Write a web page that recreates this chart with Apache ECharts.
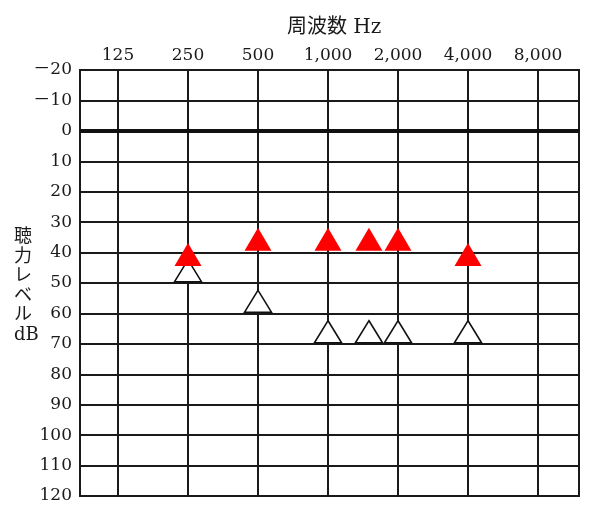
<!DOCTYPE html>
<html><head><meta charset="utf-8">
<script src="https://cdn.jsdelivr.net/npm/echarts@6/dist/echarts.min.js"></script>
<style>html,body{margin:0;padding:0;background:#fff}#c{width:600px;height:517px}</style>
</head><body><div id="c"></div>
<script>
var freqLabels = ['125','250','500','1,000','2,000','4,000','8,000'];
var freqTicks = [125, 250, 500, 1000, 2000, 4000, 8000];
var dbTicks = [-20,-10,0,10,20,30,40,50,60,70,80,90,100,110,120];
var redFreq = [250, 500, 1000, 1500, 2000, 4000];
var redDb = [40, 35, 35, 35, 35, 40];
var whiteFreq = [250, 500, 1000, 1500, 2000, 4000];
var whiteDb = [45, 55, 65, 65, 65, 65];

function oct(f){ return Math.log2(f/125); }
var serif = '"DejaVu Serif", "Noto Sans CJK JP", serif';
var chart = echarts.init(document.getElementById('c'));
var tickOct = freqTicks.map(oct);
chart.setOption({
  animation:false,
  backgroundColor:'#fff',
  grid:{left:80,top:70,width:499,height:426,show:true,borderColor:'#1a1a1a',borderWidth:2,backgroundColor:'transparent'},
  xAxis:{type:'value',position:'top',min:-0.543,max:6.586,
    axisLine:{show:false},
    axisTick:{show:false,customValues:tickOct},
    axisLabel:{customValues:tickOct,margin:6,color:'#1a1a1a',fontFamily:serif,fontSize:17,
      formatter:function(v){var i=Math.round(v);return freqLabels[i]||'';}},
    splitLine:{show:true,lineStyle:{color:'#1a1a1a',width:2}}
  },
  yAxis:{type:'value',inverse:true,min:-20,max:120,interval:10,
    axisLine:{show:false},axisTick:{show:false},
    axisLabel:{margin:8,color:'#1a1a1a',fontFamily:serif,fontSize:17,
      formatter:function(v){return v<0?'－'+Math.abs(v):String(v);}},
    splitLine:{show:true,lineStyle:{color:'#1a1a1a',width:2}}
  },
  graphic:[
    {type:'text',left:287,top:18,style:{text:'周波数 Hz',font:'20px '+serif,fill:'#1a1a1a'}},
    {type:'text',left:14,top:228,style:{text:'聴\n力\nレ\nベ\nル\ndB',font:'18px '+serif,fill:'#1a1a1a',align:'center',lineHeight:19.5,width:30}}
  ],
  series:[
    {type:'line',data:[],markLine:{silent:true,symbol:'none',label:{show:false},
      lineStyle:{color:'#111',width:4,type:'solid',opacity:1},data:[{yAxis:0}]}},
    {type:'scatter',data:whiteFreq.map(function(f,i){return [oct(f),whiteDb[i]];}),
      symbol:'triangle',symbolSize:[27,22],symbolOffset:[0,3],z:3,
      itemStyle:{color:'#fff',borderColor:'#111',borderWidth:1.5,opacity:1}},
    {type:'scatter',data:redFreq.map(function(f,i){return [oct(f),redDb[i]];}),
      symbol:'triangle',symbolSize:[27,23],symbolOffset:[0,2],z:4,
      itemStyle:{color:'#ff0000',opacity:1}}
  ]
});
</script></body></html>
